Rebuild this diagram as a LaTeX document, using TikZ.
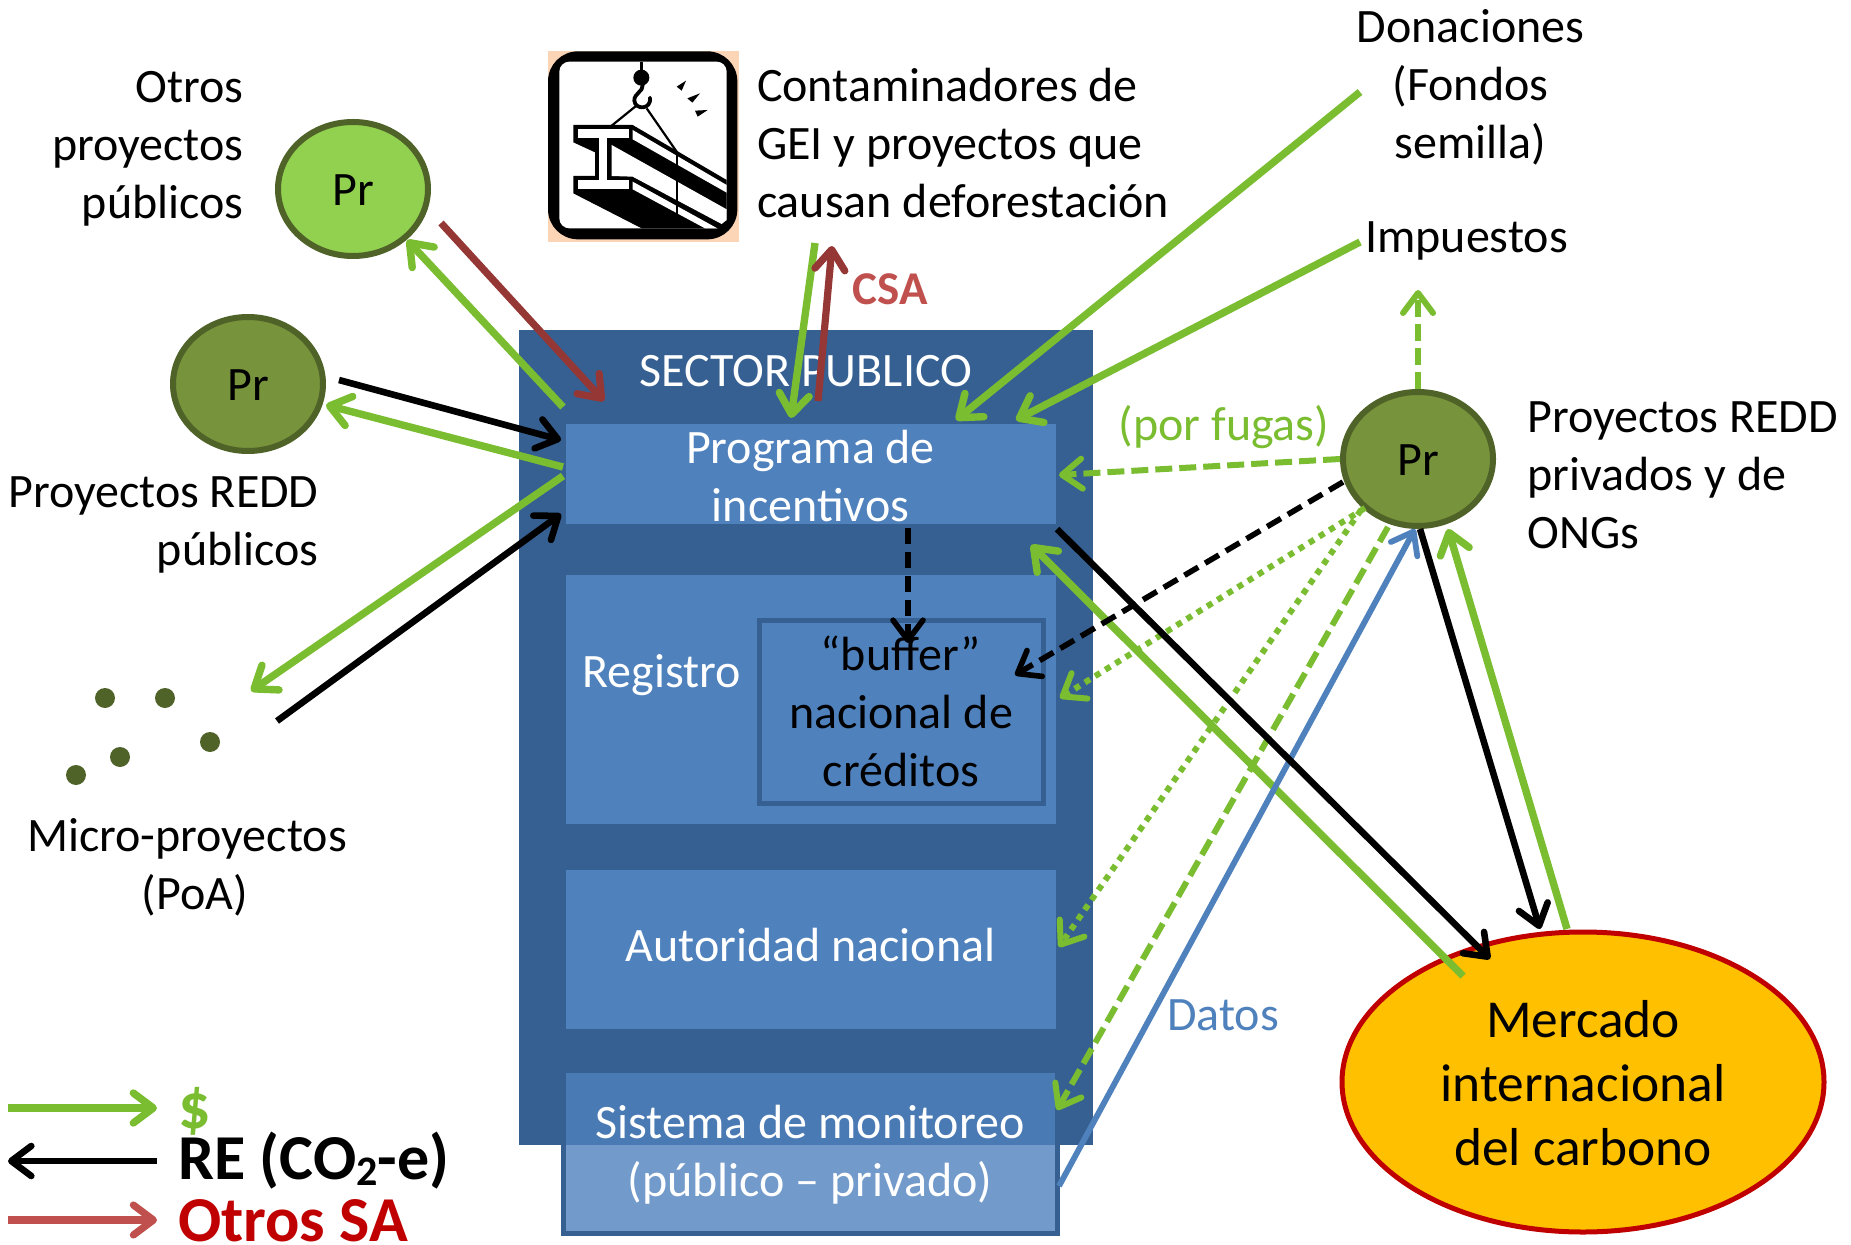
\documentclass[tikz,border=0pt]{standalone}
\usepackage{fontspec}
\setmainfont{Carlito}
\usetikzlibrary{arrows.meta,shapes.geometric}
\definecolor{grn}{HTML}{7ABD30}
\definecolor{redd}{HTML}{953735}
\definecolor{redl}{HTML}{C0504D}
\definecolor{outerb}{HTML}{366092}
\definecolor{innerb}{HTML}{4F81BD}
\definecolor{olive}{HTML}{77933C}
\definecolor{olived}{HTML}{4F6228}
\definecolor{lime}{HTML}{92D050}
\definecolor{merc}{HTML}{FFC000}
\definecolor{lgred}{HTML}{C00000}
\definecolor{peach}{HTML}{FBD5B5}
\tikzset{
  txt/.style={inner sep=0pt,outer sep=0pt,font=\fontsize{24}{29}\selectfont,align=center},
  legendtxt/.style={inner sep=0pt,outer sep=0pt,anchor=base west,font=\fontsize{32}{38}\selectfont\bfseries},
  innerbox/.style={rectangle,fill=innerb,inner sep=0pt,outer sep=0pt},
  prnode/.style={ellipse,draw=olived,line width=3pt,minimum width=75pt,minimum height=67pt,inner sep=0pt},
  barb/.style={-{Straight Barb[length=10pt,width=15pt,round]}},
  garrow/.style={barb,draw=grn,line width=3.7pt},
  karrow/.style={barb,draw=black,line width=3.3pt},
  rarrow/.style={barb,draw=redd,line width=3.6pt},
  gdash/.style={barb,draw=grn,line width=3pt,dash pattern=on 8.5pt off 3.5pt},
  gdot/.style={barb,draw=grn,line width=3pt,dash pattern=on 3pt off 3pt},
  kdash/.style={barb,draw=black,line width=2.8pt,dash pattern=on 8pt off 4pt},
  blarrow/.style={barb,draw=innerb,line width=2.9pt},
  dotnode/.style={circle,fill=olived,minimum size=10pt,inner sep=0pt}
}
\begin{document}
\begin{tikzpicture}[x=0.5pt,y=-0.5pt]
\useasboundingbox (0,0) rectangle (1851,1245);
\fill[white] (0,0) rectangle (1851,1245);
% boxes
\node[rectangle,fill=outerb,inner sep=0pt,outer sep=0pt,minimum width=287pt,minimum height=407.5pt] (sector) at (806,737.5) {};
\node[innerbox,minimum width=245pt,minimum height=50pt] (prog) at (811,474) {};
\node[innerbox,minimum width=245pt,minimum height=124.5pt] (reg) at (811,699.5) {};
\node[rectangle,draw=outerb,line width=2.5pt,fill=innerb,inner sep=0pt,minimum width=142pt,minimum height=91.5pt] (buf) at (901,711.5) {};
\node[innerbox,minimum width=245pt,minimum height=79.5pt] (auto) at (811,949.5) {};
\node[rectangle,fill=innerb,fill opacity=0.8,draw=outerb,line width=2.5pt,inner sep=0pt,outer sep=0pt,minimum width=247pt,minimum height=81.5pt] (sist) at (810.5,1152) {};
% circles
\node[prnode,fill=lime] (prA) at (353,189) {};
\node[prnode,fill=olive] (prB) at (248,384) {};
\node[prnode,fill=olive] (prC) at (1418,459) {};
\node[ellipse,fill=merc,draw=lgred,line width=2.5pt,minimum width=241pt,minimum height=150pt,inner sep=0pt] (merc) at (1583,1082) {};
% micro-project dots
\node[dotnode] (d1) at (105,698) {};
\node[dotnode] (d2) at (165,698) {};
\node[dotnode] (d3) at (210,742) {};
\node[dotnode] (d4) at (120,757) {};
\node[dotnode] (d5) at (76,775) {};
% icon
\begin{scope}[shift={(530,30)},x=0.16667pt,y=-0.16667pt]
\fill[peach] (54,64) rectangle (627,636);
\fill[black,rounded corners=15pt] (54,64) rectangle (622,628);
\fill[white,rounded corners=5pt] (88,95) rectangle (590,595);
\draw[line width=1.5pt] (334,95) -- (334,125);
\fill (334,143) circle[radius=4pt];
\draw[line width=1.9pt,line cap=round] (338,165) .. controls (340,185) and (312,190) .. (313,212) .. controls (315,240) and (365,240) .. (360,203);
\draw[line width=1.1pt] (318,228) -- (245,287);
\draw[line width=1.1pt] (350,235) -- (442,368);
\fill (440,170) -- (468,152) -- (455,182) -- cycle;
\fill (472,205) -- (510,190) -- (487,218) -- cycle;
\fill (495,242) -- (533,240) -- (503,260) -- cycle;
\fill (130,285) -- (308,285) -- (590,450) -- (590,595) -- (335,595) -- (130,490) -- (130,438) -- (195,438) -- (195,367) -- (130,337) -- cycle;
\fill[white] (143,298) rectangle (297,325);
\fill[white] (208,325) rectangle (232,450);
\fill[white] (143,450) rectangle (297,477);
\fill[white] (308,300) -- (590,465) -- (590,488) -- (308,328) -- cycle;
\fill[white] (245,345) -- (590,538) -- (590,570) -- (575,582) -- (308,440) -- (245,438) -- cycle;
\fill[white] (308,455) -- (562,595) -- (525,595) -- (308,478) -- cycle;
\draw[line width=1pt] (440,368) -- (440,552);
\end{scope}
% texts
\node[txt,align=right,anchor=east] (t1) at (243.5,149) {Otros\\proyectos\\públicos};
\node[txt,align=left,anchor=west] (t2) at (757,143) {Contaminadores de\\GEI y proyectos que\\causan deforestación};
\node[txt] (t3) at (1470.5,87) {Donaciones\\(Fondos\\semilla)};
\node[txt] (t4) at (1466.5,240.5) {Impuestos};
\node[txt,text=white] (t5) at (806,371.5) {SECTOR PUBLICO};
\node[txt,text=white] (t6) at (810.5,476) {Programa de\\incentivos};
\node[txt,text=white] (t7) at (661.5,675) {Registro};
\node[txt] (t8) at (901,711) {“buffer”\\nacional de\\créditos};
\node[txt,text=white] (t9) at (810.5,945.5) {Autoridad nacional};
\node[txt,text=white] (t10) at (810,1155) {Sistema de monitoreo\\(público – privado)};
\node[txt] (prAt) at ([yshift=-0.5pt]prA) {Pr};
\node[txt] (prBt) at ([yshift=-0.5pt]prB) {Pr};
\node[txt] (prCt) at ([yshift=-0.5pt]prC) {Pr};
\node[txt,align=right,anchor=east] (t11) at (318.5,525) {Proyectos REDD\\públicos};
\node[txt] (t12) at (187,867.5) {Micro-proyectos\\\hspace*{8pt}(PoA)};
\node[txt,align=left,anchor=west] (t13) at (1527.5,475) {Proyectos REDD\\privados y de\\ONGs};
\node[txt,text=grn] (t14) at (1224,427) {(por fugas)};
\node[txt,text=innerb] (t15) at (1223,1015) {Datos};
\node[txt,font=\fontsize{26.7}{32}\selectfont] (t16) at (1583,1083) {Mercado\\internacional\\del carbono};
\node[txt,text=redl,font=\fontsize{23.5}{28}\selectfont\bfseries] (csa) at (890,289.5) {CSA};
\node[legendtxt,text=grn] (l1) at (178,1128) {\$};
\node[legendtxt] (l2) at (178,1179) {RE (CO\raisebox{-3pt}{\fontsize{21}{21}\selectfont 2}-e)};
\node[legendtxt,text=lgred] (l3) at (178,1241.5) {Otros SA};
% connector ends
\coordinate (a1s) at (563,407); \coordinate (a1e) at (407,240);
\coordinate (a2s) at (441,223); \coordinate (a2e) at (604,401);
\coordinate (a3s) at (339,380); \coordinate (a3e) at (561,440);
\coordinate (a4s) at (563,467); \coordinate (a4e) at (326,405);
\coordinate (a5s) at (563,476); \coordinate (a5e) at (251,691);
\coordinate (a6s) at (277,721); \coordinate (a6e) at (561,514);
\coordinate (a7s) at (815,243); \coordinate (a7e) at (791,418);
\coordinate (a8s) at (818,401); \coordinate (a8e) at (832,246);
\coordinate (a9s) at (1360,92); \coordinate (a9e) at (956,420);
\coordinate (a10s) at (1360,242); \coordinate (a10e) at (1016,420);
\coordinate (a11e) at (1418,290);
\coordinate (a12e) at (1059,475);
\coordinate (a13e) at (1015,675);
\coordinate (a14e) at (1060,698);
\coordinate (a15e) at (1059,947);
\coordinate (a16s) at (1057,1110);
\coordinate (a17s) at (1059,1186);
\coordinate (a20s) at (1057,529);
\coordinate (a21e) at (1031,545);
\coordinate (a22s) at (908,528); \coordinate (a22e) at (908,643);
\coordinate (ls1) at (8,1108); \coordinate (le1) at (157,1108);
\coordinate (ls2) at (157,1161); \coordinate (le2) at (8,1161);
\coordinate (ls3) at (8,1220); \coordinate (le3) at (157,1220);
\coordinate (b1) at (1365,508); \coordinate (b2) at (1361,510); \coordinate (b3) at (1388,527);
\coordinate (m1) at (1567,929); \coordinate (m2) at (1448,529);
\coordinate (m3) at (1463,976); \coordinate (m4) at (1415,529);
\coordinate (m5) at (1343,482); \coordinate (m6) at (1420,529);
\coordinate (m7) at (1540,929); \coordinate (m8) at (1490,959);
% green connectors
\draw[garrow] (a1s) -- (a1e);
\draw[garrow] (a4s) -- (a4e);
\draw[garrow] (a5s) -- (a5e);
\draw[garrow] (a7s) -- (a7e);
\draw[garrow] (a9s) -- (a9e);
\draw[garrow] (a10s) -- (a10e);
\draw[gdash] (prC.north) -- (a11e);
\draw[gdash] (prC.west) -- (a12e);
\draw[gdot] (b1) -- (a14e);
\draw[gdot] (b2) -- (a15e);
\draw[gdash] (b3) -- (a16s);
\draw[garrow] (m1) -- (m2);
\draw[garrow] (m3) -- (a21e);
% blue, red, black connectors
\draw[blarrow] (a17s) -- (m4);
\draw[rarrow] (a2s) -- (a2e);
\draw[rarrow] (a8s) -- (a8e);
\draw[karrow] (a3s) -- (a3e);
\draw[karrow] (a6s) -- (a6e);
\draw[kdash] (m5) -- (a13e);
\draw[karrow] (m6) -- (m7);
\draw[karrow] (a20s) -- (m8);
\draw[kdash] (a22s) -- (a22e);
% legend
\draw[garrow] (ls1) -- (le1);
\draw[karrow] (ls2) -- (le2);
\draw[rarrow,draw=redl] (ls3) -- (le3);
\end{tikzpicture}
\end{document}
